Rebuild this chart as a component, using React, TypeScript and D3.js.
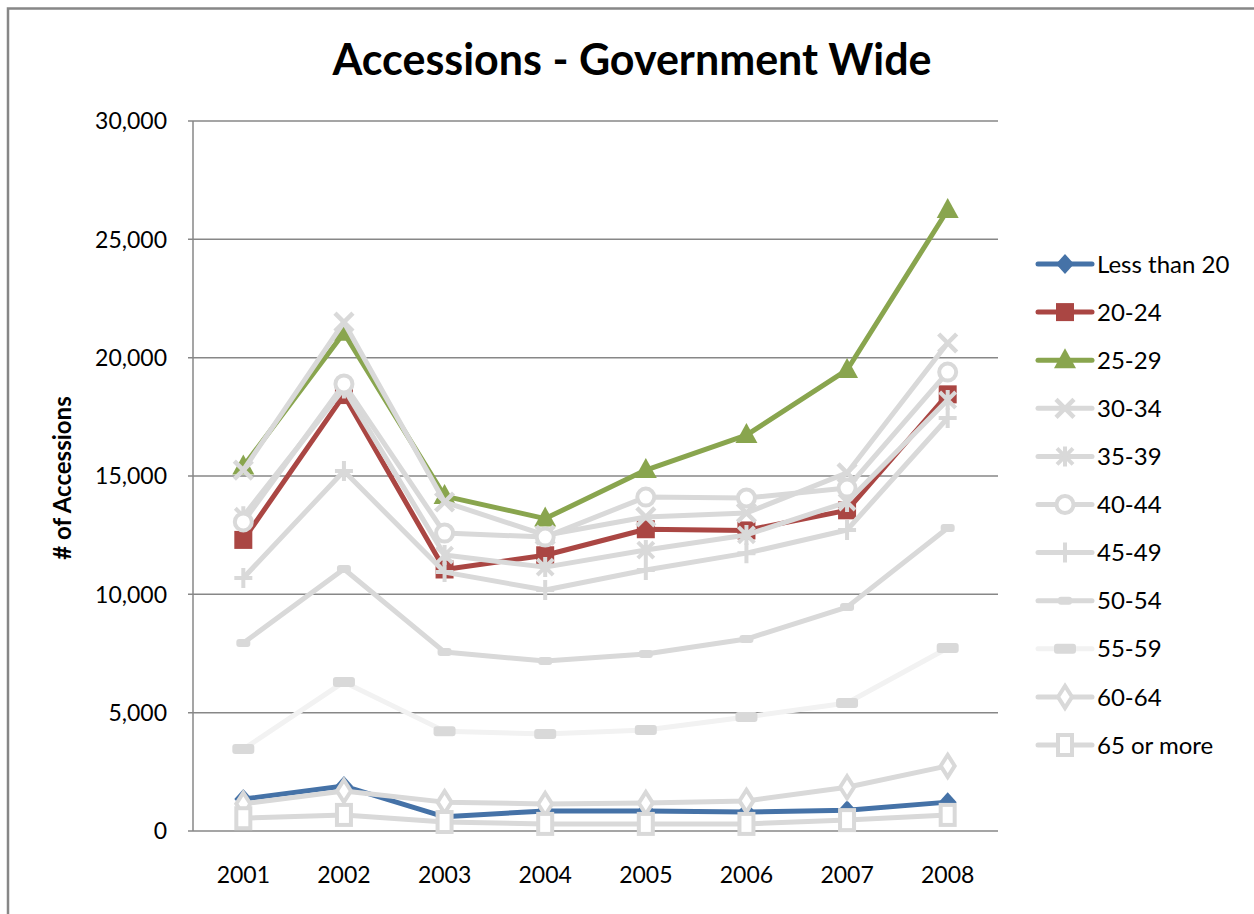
import React from 'react';
import * as d3 from 'd3';

const years = ['2001', '2002', '2003', '2004', '2005', '2006', '2007', '2008'];
const yTicks = [0, 5000, 10000, 15000, 20000, 25000, 30000];

const lessThan20 = [1350, 1900, 600, 850, 850, 800, 880, 1220];
const age20_24 = [12300, 18420, 11050, 11650, 12750, 12700, 13550, 18450];
const age25_29 = [15400, 21050, 14150, 13200, 15250, 16730, 19480, 26240];
const age30_34 = [15250, 21500, 13900, 12500, 13270, 13440, 15130, 20620];
const age35_39 = [13300, 18700, 11660, 11150, 11870, 12510, 13900, 18210];
const age40_44 = [13060, 18890, 12590, 12420, 14110, 14070, 14490, 19390];
const age45_49 = [10690, 15210, 10940, 10180, 11030, 11740, 12720, 17450];
const age50_54 = [7940, 11070, 7560, 7180, 7480, 8110, 9460, 12800];
const age55_59 = [3460, 6300, 4220, 4100, 4270, 4820, 5410, 7730];
const age60_64 = [1150, 1690, 1220, 1140, 1180, 1270, 1850, 2750];
const age65plus = [540, 680, 380, 300, 300, 300, 460, 680];

const seriesNames = ['Less than 20', '20-24', '25-29', '30-34', '35-39', '40-44', '45-49', '50-54', '55-59', '60-64', '65 or more'];
const seriesValues = [lessThan20, age20_24, age25_29, age30_34, age35_39, age40_44, age45_49, age50_54, age55_59, age60_64, age65plus];
const seriesColors = ['#4572A7', '#AA4643', '#89A54E', '#D9D9D9', '#D9D9D9', '#D9D9D9', '#D9D9D9', '#D9D9D9', '#F2F2F2', '#D9D9D9', '#D9D9D9'];
const markerTypes = ['diamond', 'square', 'triangle', 'x', 'star', 'circle', 'plus', 'shortdash', 'dash', 'odiamond', 'osquare'];

const FONT = 'Lato, "Open Sans", sans-serif';
const GRID = '#878787';
const MK = '#D9D9D9';

function Marker({ type, x, y, color }: { type: string; x: number; y: number; color: string }) {
  switch (type) {
    case 'diamond':
      return <path d={`M${x},${y - 10}L${x + 9},${y}L${x},${y + 10}L${x - 9},${y}Z`} fill={color} />;
    case 'square':
      return <rect x={x - 9} y={y - 9} width={18} height={18} fill={color} />;
    case 'triangle':
      return <path d={`M${x},${y - 12}L${x + 11},${y + 8}L${x - 11},${y + 8}Z`} fill={color} />;
    case 'x':
      return (
        <path d={`M${x - 9},${y - 9}L${x + 9},${y + 9}M${x + 9},${y - 9}L${x - 9},${y + 9}`} stroke={MK} strokeWidth={4.5} />
      );
    case 'star':
      return (
        <path
          d={`M${x - 8},${y - 8}L${x + 8},${y + 8}M${x + 8},${y - 8}L${x - 8},${y + 8}M${x},${y - 10}L${x},${y + 10}`}
          stroke={MK}
          strokeWidth={4}
        />
      );
    case 'circle':
      return <circle cx={x} cy={y} r={8.5} fill="#fff" stroke={MK} strokeWidth={4} />;
    case 'plus':
      return <path d={`M${x - 9},${y}L${x + 9},${y}M${x},${y - 10}L${x},${y + 10}`} stroke={MK} strokeWidth={4} />;
    case 'shortdash':
      return <rect x={x - 7} y={y - 4} width={14} height={8} rx={3} fill={MK} />;
    case 'dash':
      return <rect x={x - 11} y={y - 5} width={22} height={10} rx={3} fill={MK} />;
    case 'odiamond':
      return (
        <path d={`M${x},${y - 11}L${x + 7},${y}L${x},${y + 11}L${x - 7},${y}Z`} fill="#fff" stroke={MK} strokeWidth={4} />
      );
    case 'osquare':
      return <rect x={x - 7} y={y - 10} width={14} height={20} fill="#fff" stroke={MK} strokeWidth={4} />;
    default:
      return null;
  }
}

export default function App() {
  const W = 1254;
  const H = 914;
  const left = 193;
  const right = 998;
  const top = 121;
  const bottom = 831;

  const x = d3.scalePoint<string>().domain(years).range([left, right]).padding(0.5);
  const y = d3.scaleLinear().domain([0, 30000]).range([bottom, top]);
  const line = d3
    .line<number>()
    .x((_, i) => x(years[i]) as number)
    .y((d) => y(d));
  const fmt = d3.format(',');

  const legendX0 = 1038;
  const legendX1 = 1092;
  const legendY0 = 264;
  const legendStep = 48.1;

  return (
    <svg width={W} height={H} style={{ position: 'absolute', left: 0, top: 0, background: '#fff' }}>
      <rect x={0} y={0} width={W} height={H} fill="#fff" />
      <path d={`M8,${H}V8.5H${W}`} fill="none" stroke={GRID} strokeWidth={2.5} />

      <text x={632} y={75} textAnchor="middle" fontFamily={FONT} fontWeight="bold" fontSize={43} fill="#000">
        Accessions - Government Wide
      </text>

      {yTicks.map((t) => (
        <g key={t}>
          <line x1={left - 5} x2={right} y1={y(t)} y2={y(t)} stroke={GRID} strokeWidth={1.5} />
          <text
            x={167}
            y={y(t)}
            dy="0.36em"
            textAnchor="end"
            fontFamily={FONT}
            fontSize={23}
            fill="#000"
          >
            {fmt(t)}
          </text>
        </g>
      ))}
      <line x1={left} x2={left} y1={top} y2={bottom} stroke={GRID} strokeWidth={1.5} />

      {years.map((yr) => (
        <text key={yr} x={x(yr)} y={883} textAnchor="middle" fontFamily={FONT} fontSize={23} fill="#000">
          {yr}
        </text>
      ))}

      <text
        transform={`translate(71,${(top + bottom) / 2 + 2}) rotate(-90)`}
        textAnchor="middle"
        fontFamily={FONT}
        fontWeight="bold"
        fontSize={24}
        fill="#000"
      >
        # of Accessions
      </text>

      {seriesValues.map((vals, si) => (
        <g key={seriesNames[si]}>
          <path d={line(vals) || ''} fill="none" stroke={seriesColors[si]} strokeWidth={5} strokeLinejoin="round" />
          {vals.map((v, i) => (
            <Marker key={i} type={markerTypes[si]} x={x(years[i]) as number} y={y(v)} color={seriesColors[si]} />
          ))}
        </g>
      ))}

      {seriesNames.map((name, si) => {
        const ly = legendY0 + si * legendStep;
        const mx = (legendX0 + legendX1) / 2;
        return (
          <g key={name}>
            <line x1={legendX0} x2={legendX1} y1={ly} y2={ly} stroke={seriesColors[si]} strokeWidth={5} strokeLinecap="round" />
            <Marker type={markerTypes[si]} x={mx} y={ly} color={seriesColors[si]} />
            <text x={1097} y={ly} dy="0.36em" fontFamily={FONT} fontSize={24} fill="#000">
              {name}
            </text>
          </g>
        );
      })}
    </svg>
  );
}
